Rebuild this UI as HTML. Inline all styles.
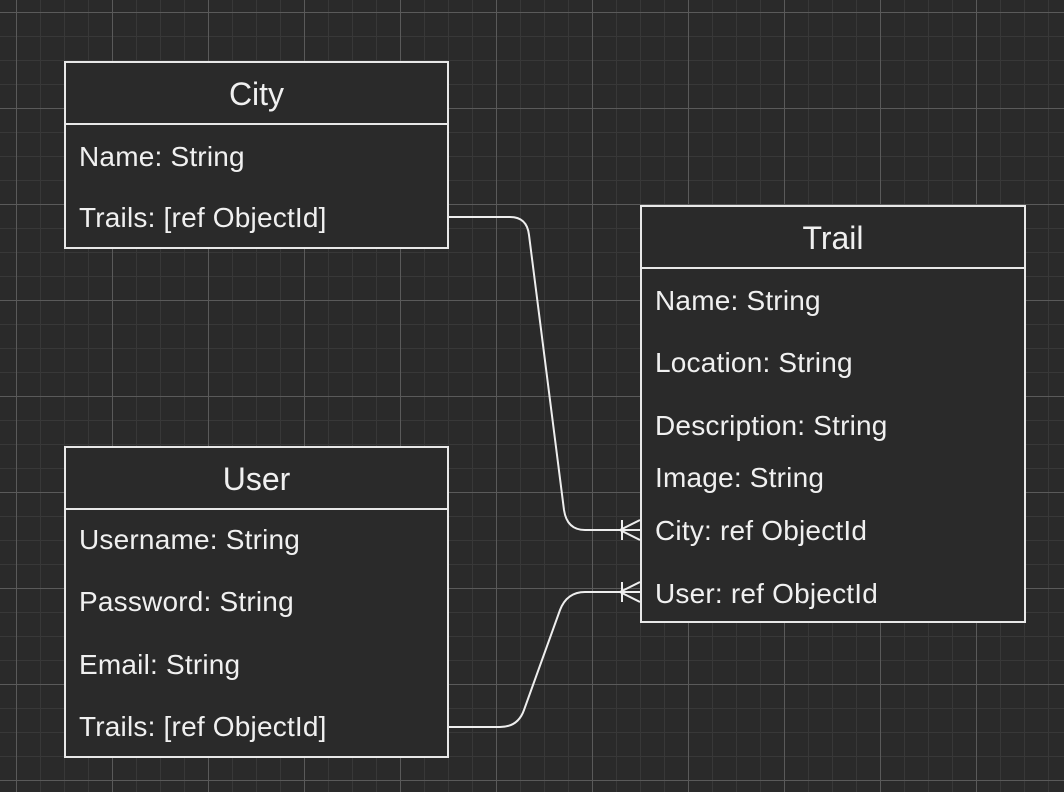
<!DOCTYPE html>
<html><head><style>
html,body{margin:0;padding:0;}
body{width:1064px;height:792px;overflow:hidden;background-color:#2a2a2a;
background-image:
linear-gradient(#5a5a5a 1px,transparent 1px),
linear-gradient(90deg,#5a5a5a 1px,transparent 1px),
linear-gradient(#383838 1px,transparent 1px),
linear-gradient(90deg,#383838 1px,transparent 1px);
background-size:96px 96px,96px 96px,24px 24px,24px 24px;
background-position:16px 12px,16px 12px,16px 12px,16px 12px;
font-family:"Liberation Sans",sans-serif;color:#f0f0f0;position:relative;}
.box{position:absolute;border:2px solid #e8e8e8;background:#2a2a2a;box-sizing:border-box;}
.hd{height:62px;border-bottom:2px solid #e8e8e8;box-sizing:border-box;font-size:32px;text-align:center;line-height:62px;}
.f{position:absolute;left:13px;font-size:28px;letter-spacing:0.2px;}
svg{position:absolute;left:0;top:0;}
</style></head><body>
<div class="box" style="left:64px;top:61px;width:385px;height:188px">
<div class="hd">City</div>
<div class="f" style="top:78px">Name: String</div>
<div class="f" style="top:139px">Trails: [ref ObjectId]</div>
</div>
<div class="box" style="left:640px;top:205px;width:386px;height:418px">
<div class="hd">Trail</div>
<div class="f" style="top:78px">Name: String</div>
<div class="f" style="top:140px">Location: String</div>
<div class="f" style="top:203px">Description: String</div>
<div class="f" style="top:255px">Image: String</div>
<div class="f" style="top:308px">City: ref ObjectId</div>
<div class="f" style="top:371px">User: ref ObjectId</div>
</div>
<div class="box" style="left:64px;top:446px;width:385px;height:312px">
<div class="hd">User</div>
<div class="f" style="top:76px">Username: String</div>
<div class="f" style="top:138px">Password: String</div>
<div class="f" style="top:201px">Email: String</div>
<div class="f" style="top:263px">Trails: [ref ObjectId]</div>
</div>
<svg width="1064" height="792" fill="none" stroke="#eeeeee" stroke-width="2">
<path d="M449 217 H510 Q527 217 529 235 L564 510 Q567 530 585 530 H640"/>
<path d="M640 520 L620 530 L640 540 M622 520 V540"/>
<path d="M449 727 H500 Q518 727 524 710 L560 610 Q567 592 585 592 H640"/>
<path d="M640 582 L620 592 L640 602 M622 582 V602"/>
</svg>
</body></html>
